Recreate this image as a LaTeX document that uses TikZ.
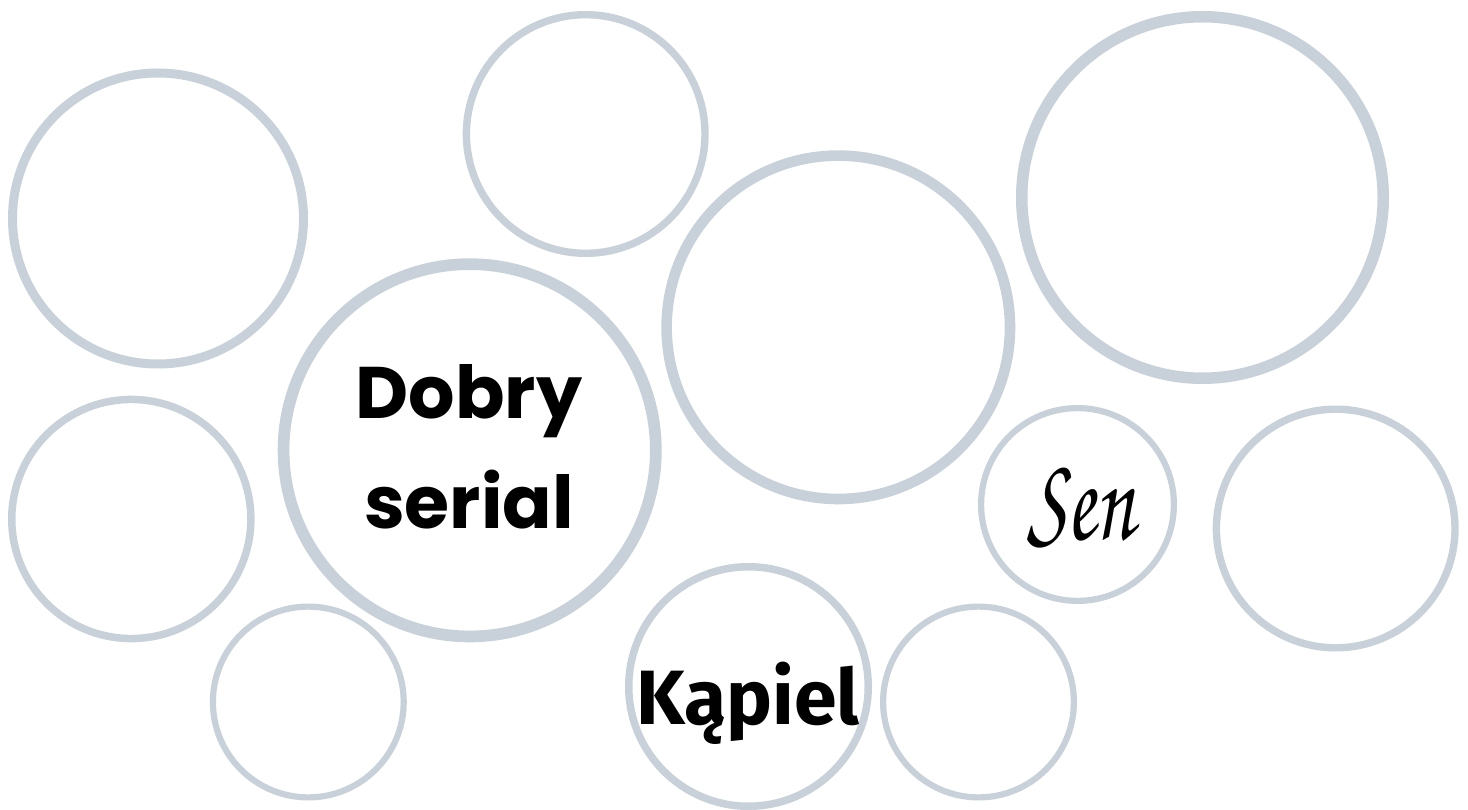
\documentclass[tikz,border=0pt]{standalone}
\usepackage{fontspec}
\setmainfont{Poppins}
\newfontfamily\heavyfont{Fira Sans}
\newfontfamily\chorusfont{texgyrechorus-mediumitalic.otf}
\definecolor{ringc}{RGB}{200,209,218}
\tikzset{
  ring/.style 2 args={circle, draw=ringc, line width=#2pt, minimum size={2*#1pt-#2pt}, inner sep=0pt},
  label text/.style={anchor=base, inner sep=0pt, text=black}
}
\begin{document}
\begin{tikzpicture}[x=1pt,y=-1pt]
\useasboundingbox[fill=white] (0,0) rectangle (1468,810);
\node[ring={150}{9}]    (c1)  at (158,218.5) {};
\node[ring={123}{7.4}]  (c2)  at (585.7,134) {};
\node[ring={177}{10.6}] (c3)  at (838.3,327.3) {};
\node[ring={186.5}{11.5}] (c4) at (1202.5,197.5) {};
\node[ring={123.3}{7.5}] (c5) at (131.3,519) {};
\node[ring={192}{11.7}] (c6)  at (469.7,450.3) {};
\node[ring={98.5}{6.2}] (c7)  at (308.3,702) {};
\node[ring={123.5}{7.5}] (c8) at (748.5,686.5) {};
\node[ring={98.5}{6.2}] (c9)  at (978.5,702) {};
\node[ring={99.5}{6.2}] (c10) at (1077.5,504.5) {};
\node[ring={123}{7.4}]  (c11) at (1335.7,528.5) {};
\node[label text, font=\bfseries\fontsize{73}{73}\selectfont] (t1) at (469,418) {Dobry};
\node[label text, font=\bfseries\fontsize{73}{73}\selectfont] (t2) at (469,528) {serial};
\node[label text, font=\heavyfont\bfseries\fontsize{77}{77}\selectfont] (t3) at (748,724) {Kąpiel};
\node[label text, font=\chorusfont\fontsize{122}{122}\selectfont] (t4) at (1081,539) {\scalebox{0.7}[1]{Sen}};
\end{tikzpicture}
\end{document}
